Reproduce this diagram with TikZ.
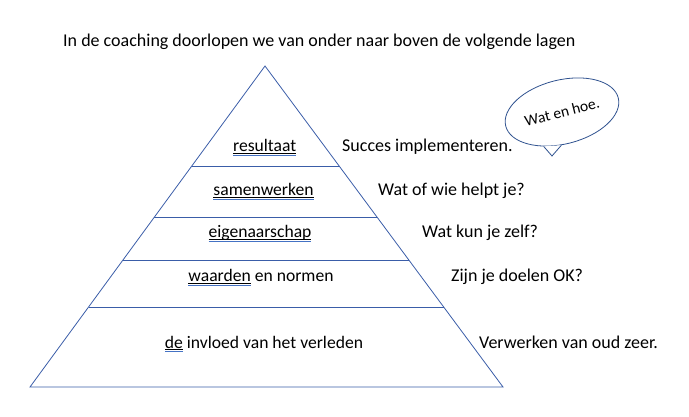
\documentclass[tikz,border=0pt]{standalone}
\usepackage{fontspec}
\setmainfont{Carlito}
\usetikzlibrary{calc,shapes.geometric}

\definecolor{layerblue}{HTML}{3A5DA8}
\definecolor{bubbleblue}{HTML}{2F528F}
\definecolor{spellblue}{HTML}{4472C4}

% underline plus blue spell-check line
\newsavebox\ulbox
\newcommand\dblul[1]{\sbox\ulbox{#1}%
  \rlap{\usebox\ulbox}%
  \rlap{\color{black}\rule[-2.0pt]{\wd\ulbox}{0.8pt}}%
  \rlap{\color{spellblue}\rule[-4.2pt]{\wd\ulbox}{0.8pt}}%
  \kern\wd\ulbox}

\begin{document}
\begin{tikzpicture}[
    x=1pt, y=-1pt,
    font=\fontsize{18}{21}\selectfont,
    edge/.style={draw=layerblue, line width=0.8pt},
    layer/.style={anchor=base, inner sep=0pt, font=\fontsize{17.6}{21}\selectfont},
    note/.style={anchor=base west, inner sep=0pt},
    bubble/.style={ellipse, draw=bubbleblue, line width=0.8pt, inner sep=0pt,
        minimum width=116pt, minimum height=64pt, rotate=14,
        font=\fontsize{15.5}{18}\selectfont}
]
\useasboundingbox (0,0) rectangle (689,417);

\node[note] (intro) at (63,47) {In de coaching doorlopen we van onder naar boven de volgende lagen};

% Pyramid outline and layer borders.
\coordinate (top) at (265,66);
\coordinate (bl) at (30,387);
\coordinate (br) at (503,387);
\draw[edge] (top) -- (bl) -- (br) -- cycle;
\foreach \t [count=\i] in {0.3115,0.4704,0.6044,0.7508} {
    \coordinate (l\i) at ($(top)!\t!(bl)$);
    \coordinate (r\i) at ($(top)!\t!(br)$);
    \draw[edge] (l\i) -- (r\i);
}

% Layers, bottom to top, with their questions.
\node[layer] (past) at (264,348) {\dblul{de} invloed van het verleden};
\node[layer] (values) at (261,282) {\dblul{waarden} en normen};
\node[layer] (owner) at (260,238) {\dblul{eigenaarschap}};
\node[layer] (team) at (263.5,196) {\dblul{samenwerken}};
\node[layer] (result) at (264.7,152) {\dblul{resultaat}};

\node[note] (q1) at (479,348) {Verwerken van oud zeer.};
\node[note] (q2) at (451,282) {Zijn je doelen OK?};
\node[note] (q3) at (422,238) {Wat kun je zelf?};
\node[note] (q4) at (378,196) {Wat of wie helpt je?};
\node[note] (q5) at (342,152) {Succes implementeren.};

% Speech bubble with its tail.
\node[bubble] (bubble) at (562,112) {Wat en hoe.};
\coordinate (tip) at (552,156);
\fill[white] (bubble.228) -- (tip) -- (bubble.255) -- cycle;
\draw[draw=bubbleblue, line width=0.8pt] (bubble.228) -- (tip) -- (bubble.255);

\end{tikzpicture}
\end{document}
